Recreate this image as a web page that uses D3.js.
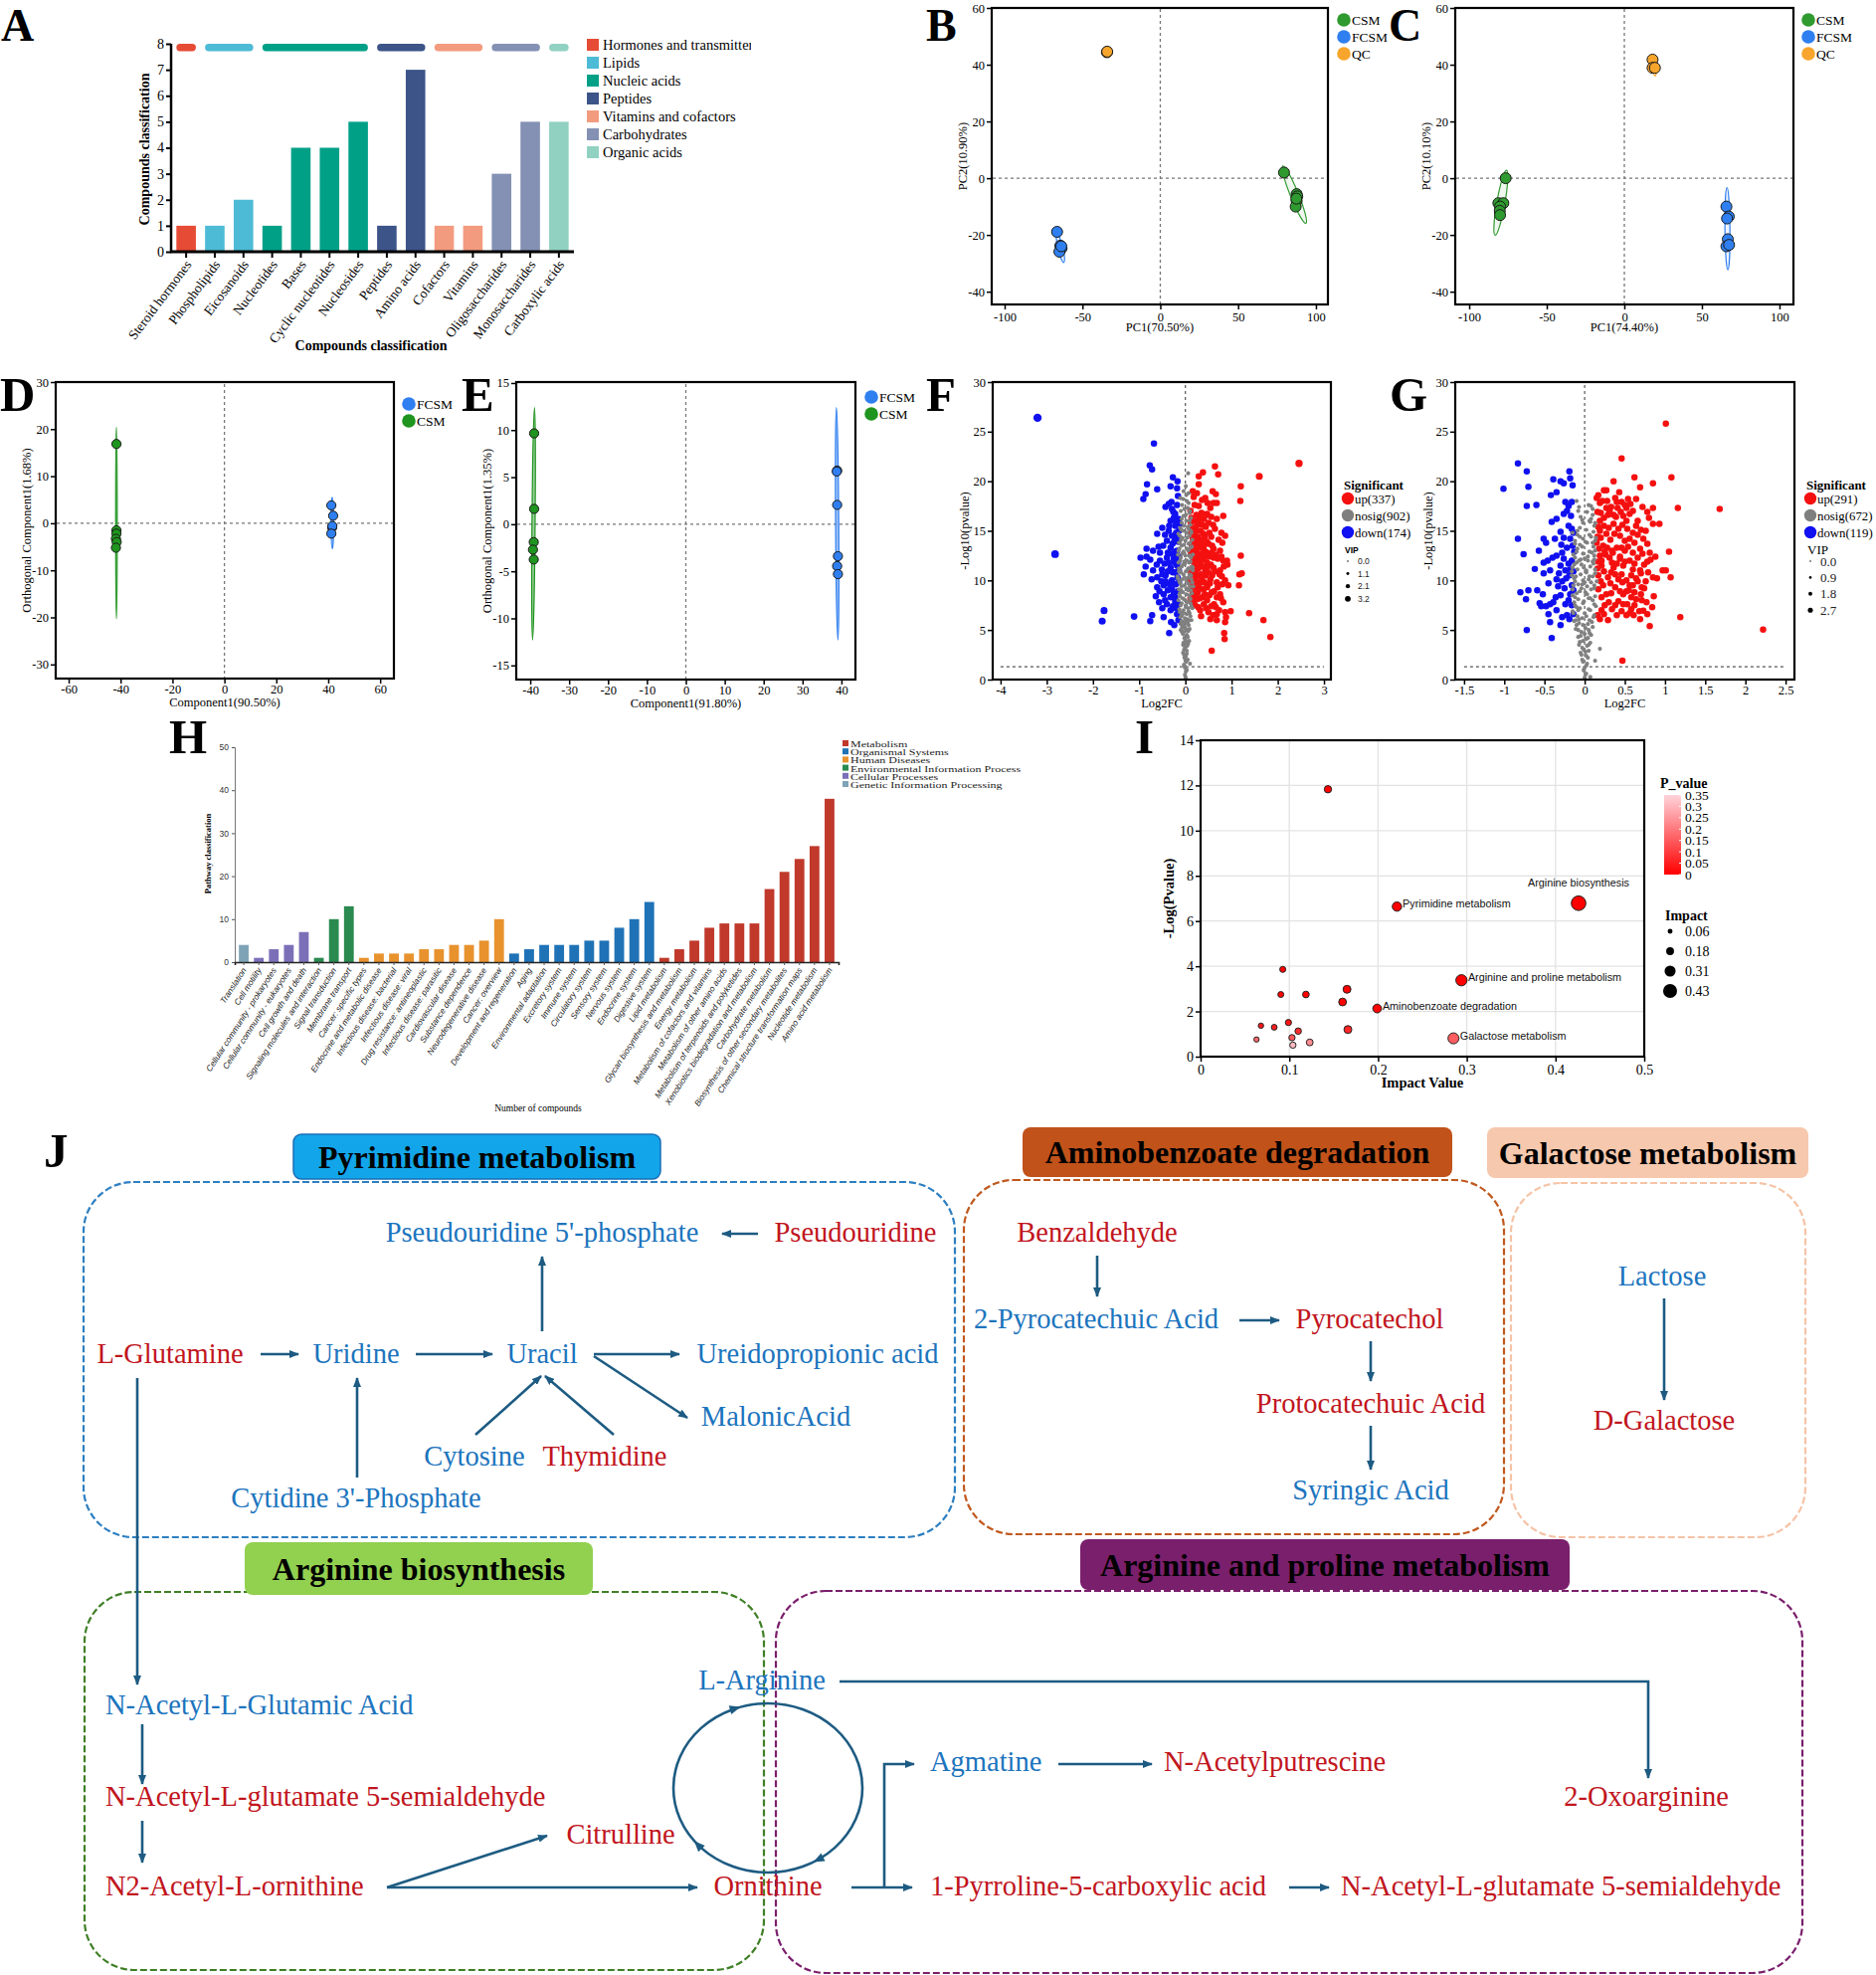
<!DOCTYPE html>
<html><head><meta charset="utf-8">
<script src="https://cdn.jsdelivr.net/npm/d3@7/dist/d3.min.js"></script>
<style>
html,body{margin:0;padding:0;background:#fff;}
svg{display:block;}
</style></head><body>
<svg id="fig" width="1886" height="1985" xmlns="http://www.w3.org/2000/svg"></svg>
<script>
// ======================= DATA =======================
// Panel A
const aCategories = ["Steroid hormones","Phospholipids","Eicosanoids","Nucleotides","Bases","Cyclic nucleotides","Nucleosides","Peptides","Amino acids","Cofactors","Vitamins","Oligosaccharides","Monosaccharides","Carboxylic acids"];
const aValues = [1,1,2,1,4,4,5,1,7,1,1,3,5,5];
const aClassOf = [0,1,1,2,2,2,2,3,3,4,4,5,5,6];
const aClasses = ["Hormones and transmitters","Lipids","Nucleic acids","Peptides","Vitamins and cofactors","Carbohydrates","Organic acids"];
const aColors = ["#e64b35","#4dbbd5","#00a087","#3c5488","#f39b7f","#8491b4","#91d1c2"];
const aYTicks = [0,1,2,3,4,5,6,7,8];

// Panels B, C (PCA)
const bCSM = [[79.5,2],[87.6,-5.6],[88,-6.4],[87.6,-8],[87,-10],[87.4,-7.2]];
const bFCSM = [[-66.3,-18.9],[-64.2,-23.8],[-63.4,-24.7],[-64.8,-25.9],[-63.6,-24]];
const bQC = [[-34.3,44.4],[-34.1,44.6]];
const bEllipses = [["CSM",[78.7,4.3],[93.6,-15.9],2.6],["FCSM",[-66.3,-19.7],[-62,-29.7],1.6]];
const cCSM = [[-76.5,0],[-81.2,-8.8],[-78,-8.8],[-80.1,-10],[-80.3,-11.5],[-80.1,-13]];
const cFCSM = [[65.8,-10],[67.3,-13.5],[66.2,-14.2],[66.7,-21.5],[65.8,-24],[67.5,-23.5]];
const cQC = [[18.2,41.8],[18.2,38.9],[19.7,38.9]];
const cEllipses = [["CSM",[-75.9,2.8],[-83.3,-20.1],2.6],["FCSM",[66.2,-3.3],[66.7,-32.3],1.6],["QC",[18.6,43],[19.9,36],1.2]];
const pcaXTicks = [-100,-50,0,50,100];
const pcaYTicks = [-40,-20,0,20,40,60];

// Panels D, E (OPLS-DA)
const dCSM = [[-41.6,16.85],[-41.6,-1.5],[-41.6,-2.2],[-41.8,-3.3],[-41.5,-4],[-41.8,-5.2]];
const dFCSM = [[41.2,3.8],[41.9,1.6],[41.5,-0.9],[41.6,-0.6],[41.2,-2.2]];
const dEllipses = [["CSM",[-41.6,20.4],[-41.6,-20.3],0.3],["FCSM",[41.5,5.5],[41.6,-5.4],0.5]];
const dXTicks = [-60,-40,-20,0,20,40,60];
const dYTicks = [-30,-20,-10,0,10,20,30];
const eCSM = [[-39,9.65],[-39,1.63],[-39.1,-1.9],[-39.3,-2.7],[-39.1,-3.75]];
const eFCSM = [[38.9,5.7],[38.8,5.6],[38.9,2.05],[39.1,-3.4],[38.9,-4.45],[39.1,-5.3]];
const eEllipses = [["CSM",[-38.9,12.4],[-39.4,-12.3],0.4],["FCSM",[38.7,12.4],[39.1,-12.3],0.4]];
const eXTicks = [-40,-30,-20,-10,0,10,20,30,40];
const eYTicks = [-15,-10,-5,0,5,10,15];

// Panel F (volcano) [log2FC, -log10 p, (VIP)]
const fDown = [[-3.20,26.4,4.2],[-2.82,12.65,3.8],[-1.76,6.96,3.4],[-1.80,5.89,3.4],[-1.11,6.36,3.2],[-0.68,23.8],[-0.77,21.6],[-0.72,21.2],[-0.83,19.7],[-0.86,18.7],[-0.91,18.2],[-0.61,19.2],[-0.27,20.4],[-0.32,19.5],[-0.17,20.0],[-0.18,19.3],[-0.36,17.7],[-0.29,17.2],[-0.22,16.7],[-0.32,16.0],[-0.22,15.5],[-0.61,14.7],[-0.36,15.0],[-0.29,14.5],[-0.40,14.0],[-0.22,14.1],[-0.84,13.2],[-0.70,13.0],[-0.55,12.8],[-0.32,13.3],[-0.18,13.0],[-0.84,12.4],[-0.76,12.1],[-0.55,12.0],[-0.40,12.3],[-0.25,12.2],[-0.86,11.4],[-0.70,11.0],[-0.51,11.1],[-0.32,11.3],[-0.18,11.5],[-0.73,10.1],[-0.61,10.3],[-0.43,10.5],[-0.29,10.0],[-0.17,10.3],[-0.61,9.3],[-0.47,9.5],[-0.29,9.1],[-0.64,8.4],[-0.47,8.6],[-0.32,8.3],[-0.57,7.8],[-0.40,7.6],[-0.22,7.9],[-0.47,6.3],[-0.32,7.0],[-0.18,6.6],[-0.72,6.5],[-0.76,5.9],[-0.31,5.8],[-0.35,4.7],[-0.43,17.4],[-0.11,15.7],[-0.97,12.3],[-0.90,10.6],[-0.25,16.3],[-0.35,15.5],[-0.20,14.8],[-0.28,13.7],[-0.38,12.8],[-0.20,12.6],[-0.45,11.7],[-0.27,10.8],[-0.52,9.9],[-0.38,9.0],[-0.25,8.7],[-0.56,8.9],
  [-0.15,16.2],[-0.20,15.9],[-0.14,15.0],[-0.17,14.5],[-0.24,13.9],[-0.15,13.9],[-0.14,12.4],[-0.22,12.9],[-0.30,12.7],[-0.16,11.9],[-0.23,11.8],[-0.36,11.8],[-0.14,11.0],[-0.22,10.8],[-0.38,10.9],[-0.14,9.8],[-0.21,9.6],[-0.34,9.6],[-0.43,9.9],[-0.16,8.9],[-0.22,8.3],[-0.44,8.0],[-0.15,7.6],[-0.27,7.4],[-0.50,7.2],[-0.20,7.2],[-0.26,16.9],[-0.18,17.6],[-0.30,17.9],[-0.16,18.5],[-0.48,13.5],[-0.50,10.6],[-0.62,11.6],[-0.58,13.4],[-0.44,14.6],[-0.50,15.3],[-0.15,6.0],[-0.24,5.5]];
const fUp = [[2.46,21.8,3.6],[1.60,20.5,3.4],[1.20,19.5],[1.19,18.0],[0.82,16.5],[0.64,21.5],[0.71,20.7],[0.38,20.9],[0.29,20.5],[0.16,19.0],[0.25,18.8],[0.59,19.0],[0.66,18.7],[0.61,17.8],[0.54,17.3],[0.47,16.7],[0.29,17.5],[0.32,16.5],[0.21,16.0],[0.50,15.8],[0.64,15.2],[0.78,14.8],[0.86,14.5],[0.25,15.0],[0.39,14.7],[0.16,14.2],[0.32,13.8],[0.50,13.7],[0.61,13.2],[0.75,13.0],[0.18,13.0],[0.36,12.7],[1.20,12.5],[0.90,12.0],[0.91,11.6],[0.18,12.0],[0.32,11.7],[0.47,11.8],[0.61,11.3],[0.75,11.0],[1.17,10.6],[1.22,10.7],[0.21,10.6],[0.36,10.3],[0.54,10.1],[0.68,9.8],[0.86,10.0],[1.16,9.5],[0.93,9.5],[0.19,9.3],[0.39,9.1],[0.57,8.8],[0.75,8.6],[0.82,7.8],[0.25,8.1],[0.47,8.0],[0.62,7.6],[0.21,7.5],[0.32,7.0],[0.50,6.8],[0.68,6.6],[0.86,6.8],[0.98,6.9],[1.38,6.7],[0.54,6.1],[0.68,6.0],[0.86,5.8],[0.88,6.3],[1.69,6.0],[1.84,4.3],[0.84,4.7],[0.85,4.1],[0.57,2.9],[0.29,19.7],[0.43,18.3],[0.68,17.8],[0.11,17.0],[0.21,15.3],[0.56,14.4],[0.14,11.2],[0.09,10.1],[0.14,9.0],[0.61,12.3],[0.43,11.0],[0.29,9.3],[0.68,8.3],[0.82,12.0],[0.79,10.4],[0.39,13.2],[0.32,15.7],[0.13,16.3],[0.24,14.0],[0.45,12.5],[0.12,12.8],[0.27,12.3],[0.55,11.6],[0.13,14.9],[0.36,9.8],[0.48,9.5],[0.22,11.4],
  [0.12,15.8],[0.15,15.2],[0.18,14.6],[0.20,13.6],[0.23,13.1],[0.15,12.4],[0.19,11.8],[0.22,11.0],[0.16,10.6],[0.20,10.0],[0.24,9.6],[0.17,8.6],[0.22,8.4],[0.27,8.8],[0.30,9.8],[0.33,10.6],[0.28,11.2],[0.31,12.0],[0.26,12.7],[0.30,13.3],[0.35,14.1],[0.27,14.4],[0.33,15.0],[0.37,15.6],[0.24,16.6],[0.35,16.8],[0.40,16.2],[0.44,15.4],[0.42,14.4],[0.46,13.9],[0.40,13.5],[0.44,12.9],[0.50,12.4],[0.40,12.1],[0.48,11.4],[0.38,11.4],[0.44,10.5],[0.50,10.8],[0.41,9.8],[0.47,9.3],[0.53,9.7],[0.42,8.6],[0.52,8.5],[0.37,8.3],[0.45,7.2],[0.56,7.4],[0.40,7.6],[0.28,7.3],[0.34,6.4],[0.62,8.9],[0.58,10.5],[0.64,10.9],[0.56,12.8],[0.66,12.6],[0.58,13.5],[0.52,14.8],[0.60,15.6],[0.56,16.4],[0.48,17.8],[0.36,18.1],[0.20,17.6],[0.18,18.4],[0.72,14.1],[0.70,12.2],[0.74,10.6],[0.70,9.3],[0.77,8.2],[0.66,7.3],[0.60,6.5],[0.73,7.0],[0.80,9.6],[0.83,11.4],[0.78,12.4],[0.80,13.8],[0.68,16.2],[0.26,15.6],[0.14,13.6],[0.12,10.8],[0.13,9.5],[0.16,7.9],[0.11,8.2],[0.25,10.4],[0.35,12.4],[0.31,8.2],[0.46,16.6],[0.29,16.2]];
const fNosig = [[0.06,20.8],[0.07,18.8],[-0.11,18.3],[-0.10,17.0],[-0.11,15.3],[0.10,1.6],[0.0,0.3],[0.01,0.8],[-0.01,1.2],[0.02,1.8],[-0.02,2.2],[0.03,2.6],[-0.03,3.0],[0.04,3.4],[-0.04,3.7],[0.0,4.0],[0.05,4.3],[-0.05,4.6],[0.02,5.0],[-0.07,5.3],[0.07,5.5],[-0.02,5.8],[0.04,6.1],[-0.08,6.4],[0.09,6.7],[-0.04,7.0],[0.06,7.2],[-0.10,7.5],[0.11,7.7],[0.0,8.0],[-0.06,8.2],[0.08,8.5],[-0.12,8.7],[0.12,9.0],[0.02,9.2],[-0.08,9.4],[0.06,9.7],[-0.13,9.9],[0.13,10.1],[-0.02,10.3],[0.09,10.6],[-0.10,10.8],[0.04,11.0],[-0.14,11.2],[0.14,11.4],[-0.05,11.6],[0.08,11.8],[-0.11,12.0],[0.12,12.3],[0.0,12.5],[-0.07,12.7],[0.06,13.0],[-0.13,13.2],[0.14,13.4],[-0.03,13.6],[0.10,13.8],[-0.09,14.1],[0.04,14.3],[-0.12,14.5],[0.13,14.8],[-0.05,15.0],[0.07,15.2],[0.11,15.6],[-0.08,15.8],[0.02,16.0],[0.12,16.3],[-0.04,16.5],[0.09,16.8],[0.05,17.3],[-0.07,17.6],[0.03,18.0],[-0.04,19.0],[0.01,19.5],[-0.16,12.6],[0.16,11.0],[-0.17,10.4],[0.17,9.4],[-0.15,8.0],[0.15,7.2],[-0.12,6.8],[0.13,6.0],[-0.10,5.6],[-0.06,4.9],[0.08,3.9],[-0.05,2.7],[0.05,2.0],[-0.03,1.5],[0.03,1.0],[-0.09,9.0],[0.10,11.2],[-0.12,13.8],[0.03,14.8],[-0.02,11.9],[0.07,9.1],[-0.06,6.8],[0.05,5.8],[-0.01,3.3],[0.11,8.1],[-0.14,10.9],[0.01,7.5],
  [0.01,0.1],[-0.01,0.5],[0.02,0.9],[-0.02,1.4],[0.0,1.9],[0.01,2.3],[-0.03,2.5],[0.03,2.9],[0.0,3.2],[-0.05,3.5],[0.06,3.6],[0.01,3.8],[-0.02,4.2],[0.03,4.5],[-0.07,4.8],[0.06,4.9],[-0.10,5.0],[0.0,5.2],[0.09,5.1],[-0.04,5.5],[0.03,5.7],[-0.08,5.9],[0.08,6.0],[-0.01,6.2],[-0.11,6.3],[0.11,6.4],[0.03,6.6],[-0.06,6.6],[0.07,6.9],[-0.13,7.1],[0.01,7.3],[0.13,7.4],[-0.08,7.7],[0.05,7.8],[-0.03,8.1],[0.10,8.2],[-0.12,8.4],[0.02,8.6],[0.14,8.7],[-0.05,8.8],[0.06,9.0],[-0.14,9.1],[-0.02,9.5],[0.10,9.4],[-0.11,9.7],[0.15,9.8],[0.02,10.0],[-0.07,10.1],[0.07,10.3],[-0.16,10.2],[0.12,10.5],[-0.04,10.6],[0.01,10.9],[-0.12,11.0],[0.16,11.3],[0.06,11.2],[-0.08,11.4],[-0.01,11.7],[0.11,11.9],[-0.15,11.8],[0.03,12.0],[-0.10,12.3],[0.08,12.5],[0.16,12.6],[-0.04,12.9],[-0.15,13.0],[0.03,13.2],[0.11,13.3],[-0.08,13.5],[0.07,13.7],[-0.14,13.8],[0.0,14.0],[0.15,14.1],[-0.06,14.3],[0.09,14.5],[-0.15,14.7],[0.02,14.8],[0.12,15.0],[-0.09,15.1],[0.05,15.4],[-0.03,15.5],[0.09,16.0],[-0.08,16.2],[0.01,16.6],[0.10,17.0],[-0.02,17.2],[0.07,17.8],[-0.05,18.2],[0.02,18.6]];

// Panel G (volcano)
const gDown = [[-1.01,19.25],[-0.83,21.8],[-0.72,21.0],[-0.70,19.45],[-0.72,17.5],[-0.60,17.6],[-0.83,14.2],[-0.76,12.65],[-0.57,13.0],[-0.62,11.15],[-0.51,14.2],[-0.48,13.8],[-0.51,11.8],[-0.51,10.7],[-0.43,11.0],[-0.80,8.8],[-0.70,9.0],[-0.73,8.1],[-0.59,9.0],[-0.56,7.7],[-0.54,7.4],[-0.48,7.4],[-0.43,7.6],[-0.45,6.6],[-0.39,7.8],[-0.35,7.0],[-0.43,5.8],[-0.72,5.0],[-0.41,4.2],[-0.39,20.2],[-0.30,20.0],[-0.26,19.8],[-0.19,21.0],[-0.18,20.3],[-0.15,19.6],[-0.35,18.9],[-0.42,18.6],[-0.24,17.9],[-0.20,17.5],[-0.16,17.9],[-0.22,17.0],[-0.26,16.7],[-0.41,15.9],[-0.35,16.2],[-0.20,15.5],[-0.16,15.2],[-0.30,14.9],[-0.37,14.2],[-0.26,14.3],[-0.18,14.2],[-0.15,13.5],[-0.35,12.5],[-0.26,12.2],[-0.20,11.7],[-0.16,12.0],[-0.30,11.5],[-0.24,11.0],[-0.18,11.1],[-0.35,10.1],[-0.28,9.9],[-0.19,10.5],[-0.16,9.5],[-0.30,8.5],[-0.18,8.6],[-0.20,8.0],[-0.28,6.3],[-0.22,6.5],[-0.19,6.1],[-0.30,5.5],
  [-0.17,16.5],[-0.14,14.8],[-0.22,13.3],[-0.13,12.9],[-0.28,12.8],[-0.14,10.9],[-0.23,10.2],[-0.32,10.7],[-0.14,9.0],[-0.25,9.2],[-0.33,9.4],[-0.16,7.5],[-0.24,7.6],[-0.14,6.6],[-0.36,8.3],[-0.29,13.6],[-0.45,9.7],[-0.52,8.6],[-0.40,12.3],[-0.46,12.0]];
const gUp = [[1.01,25.8],[0.46,22.3],[0.36,20.0],[0.62,20.4],[1.08,20.4],[0.85,19.8],[0.69,19.4],[0.24,19.1],[0.27,19.1],[0.43,18.9],[0.15,18.3],[0.19,17.8],[0.40,17.9],[0.46,17.9],[0.57,17.7],[1.16,17.3],[0.85,17.3],[1.68,17.2],[0.27,17.3],[0.31,17.0],[0.45,16.9],[0.48,16.5],[0.52,16.0],[0.80,16.3],[0.85,15.7],[0.93,15.7],[0.19,16.0],[0.36,15.7],[0.64,15.5],[0.76,15.0],[0.19,15.0],[0.27,14.7],[0.44,14.5],[0.56,14.2],[0.73,14.2],[0.62,13.8],[0.15,13.8],[0.23,13.5],[0.40,13.3],[0.50,13.0],[0.69,13.2],[0.81,12.8],[1.05,12.9],[0.19,12.5],[0.31,12.3],[0.44,12.2],[0.56,12.0],[0.66,12.3],[0.78,11.9],[0.21,11.5],[0.36,11.3],[0.48,11.5],[0.60,11.1],[0.97,11.0],[1.01,11.0],[0.17,10.5],[0.29,10.3],[0.42,10.1],[0.52,10.0],[0.85,10.3],[1.07,10.3],[0.23,9.5],[0.38,9.3],[0.60,9.5],[0.71,9.3],[0.27,8.6],[0.48,8.6],[0.62,8.8],[0.64,8.1],[0.71,8.0],[0.25,7.5],[0.38,7.5],[0.48,7.6],[0.58,7.1],[0.84,7.3],[0.21,7.0],[0.40,6.5],[0.52,6.5],[0.61,6.5],[0.19,6.1],[0.29,6.0],[0.69,6.1],[0.73,6.96],[1.19,6.3],[0.81,5.4],[2.22,5.05],[0.47,1.9],[0.52,17.3],[0.34,13.0],[0.69,11.0],[0.16,14.4],[0.17,11.9],[0.33,10.8],[0.55,9.0],[0.25,12.9],[0.39,16.4],[0.16,16.9],
  [0.17,18.6],[0.22,18.0],[0.20,16.8],[0.24,16.3],[0.29,16.6],[0.33,17.4],[0.36,16.6],[0.41,17.3],[0.50,17.6],[0.56,16.7],[0.60,17.0],[0.66,16.0],[0.70,15.1],[0.60,14.8],[0.53,15.2],[0.47,15.6],[0.42,15.2],[0.30,15.3],[0.24,15.5],[0.17,15.4],[0.20,14.3],[0.32,14.1],[0.37,14.7],[0.50,14.0],[0.66,14.6],[0.78,13.7],[0.72,12.7],[0.60,12.8],[0.54,13.4],[0.46,13.3],[0.35,12.8],[0.28,13.3],[0.18,13.2],[0.21,12.0],[0.34,11.8],[0.40,11.7],[0.50,11.9],[0.62,11.7],[0.74,11.6],[0.82,12.1],[0.70,10.7],[0.58,10.5],[0.46,10.6],[0.38,10.6],[0.24,10.9],[0.16,11.2],[0.20,9.9],[0.32,9.7],[0.47,9.8],[0.56,9.5],[0.66,9.9],[0.76,9.9],[0.70,8.6],[0.58,8.3],[0.44,8.9],[0.33,8.7],[0.21,8.3],[0.17,9.1],[0.30,7.8],[0.42,7.9],[0.53,7.6],[0.62,7.5],[0.68,6.9],[0.56,6.7],[0.46,6.9],[0.34,7.1],[0.24,6.6],[0.16,6.5],[0.77,7.8],[0.74,9.2],[0.79,10.8],[0.88,12.4],[0.90,10.2],[0.86,8.4],[0.78,6.6],[0.54,18.2],[0.64,18.2],[0.72,17.4],[0.78,16.9],[0.38,18.3],[0.28,18.0],[0.26,12.6],[0.44,12.4],[0.52,8.9],[0.64,10.2]];
const gNosig = [[-0.10,18.0],[-0.08,17.0],[0.10,17.2],[0.08,16.2],[-0.02,15.8],[0.12,15.5],[-0.09,15.0],[0.06,14.6],[-0.12,14.0],[0.10,13.8],[-0.03,13.4],[0.13,13.0],[-0.14,12.6],[0.04,12.4],[-0.07,12.0],[0.11,11.7],[-0.15,11.3],[0.02,11.0],[0.13,10.7],[-0.11,10.4],[-0.02,10.0],[0.08,9.8],[-0.14,9.5],[0.12,9.2],[-0.06,8.9],[0.03,8.6],[-0.12,8.3],[0.10,8.0],[-0.02,7.7],[-0.10,7.3],[0.07,7.0],[-0.14,6.7],[0.02,6.4],[-0.07,6.1],[0.09,5.8],[-0.10,5.5],[0.01,5.2],[-0.08,5.0],[0.06,4.7],[-0.05,4.4],[0.02,4.1],[-0.06,3.8],[0.05,3.5],[-0.03,3.2],[0.19,3.1],[0.01,2.8],[-0.04,2.5],[0.04,2.2],[0.13,1.9],[-0.02,1.8],[0.02,1.4],[-0.01,1.0],[0.02,0.6],[0.07,0.27],[0.0,0.2],[-0.16,10.9],[0.15,9.9],[-0.13,7.8],[0.14,7.4],[-0.05,16.4],[0.05,17.6],[0.0,12.2],[-0.09,13.2],[0.09,12.8],[0.14,14.3],[-0.15,14.8],[0.11,6.3],[-0.11,6.0],[0.03,9.4],[-0.04,11.6],[0.06,10.4],[-0.12,9.9],[0.12,12.1],[-0.06,14.4],[0.07,15.9],[-0.1,11.8],[0.01,13.9],[-0.03,9.6],[0.05,8.2],[-0.08,7.0],
  [0.01,0.5],[-0.01,0.9],[0.0,1.2],[0.03,1.6],[-0.03,2.0],[0.02,2.4],[-0.05,2.7],[0.05,2.9],[-0.01,3.0],[0.03,3.4],[-0.07,3.5],[0.07,3.7],[-0.02,3.9],[0.04,4.2],[-0.08,4.3],[0.08,4.5],[0.0,4.6],[-0.04,4.8],[0.05,5.0],[-0.11,5.1],[0.10,5.3],[-0.02,5.5],[0.04,5.6],[-0.07,5.7],[-0.13,5.9],[0.06,6.0],[-0.03,6.2],[0.12,6.5],[-0.09,6.4],[0.0,6.7],[-0.15,6.9],[0.05,7.1],[-0.06,7.2],[0.12,7.6],[-0.12,7.5],[-0.01,7.9],[0.07,8.2],[-0.08,8.1],[-0.15,8.5],[0.13,8.4],[0.01,8.8],[-0.10,8.7],[0.08,9.1],[-0.04,9.2],[-0.15,9.1],[0.12,9.5],[0.0,9.8],[-0.08,9.6],[0.05,10.1],[-0.13,10.2],[0.10,10.4],[-0.05,10.6],[0.02,10.8],[-0.16,10.5],[0.13,11.1],[-0.09,11.1],[0.07,11.4],[-0.01,11.3],[-0.13,11.6],[0.10,11.9],[0.04,12.0],[-0.05,12.1],[-0.12,12.3],[0.12,12.5],[-0.02,12.7],[0.06,12.9],[-0.10,12.9],[0.11,13.4],[-0.06,13.6],[0.03,13.8],[-0.12,13.7],[0.13,14.0],[-0.02,14.2],[0.08,14.4],[-0.09,14.6],[0.11,14.9],[0.02,15.1],[-0.06,15.3],[0.13,15.8],[0.06,16.0],[-0.03,16.1],[0.10,16.6],[0.03,16.9],[0.08,17.5],[-0.07,17.4]];
const fXTicks = [-4,-3,-2,-1,0,1,2,3];
const gXTicks = [-1.5,-1,-0.5,0,0.5,1,1.5,2,2.5];
const volYTicks = [0,5,10,15,20,25,30];
const fVipTicks = [0.0,1.1,2.1,3.2];
const gVipTicks = [0.0,0.9,1.8,2.7];

// Panel H (KEGG classification)
const hCategories = ["Translation","Cell motility","Cellular community - prokaryotes","Cellular community - eukaryotes","Cell growth and death","Signaling molecules and interaction","Signal transduction","Membrane transport","Cancer: specific types","Endocrine and metabolic disease","Infectious disease: bacterial","Infectious disease: viral","Drug resistance: antineoplastic","Infectious disease: parasitic","Cardiovascular disease","Substance dependence","Neurodegenerative disease","Cancer: overview","Development and regeneration","Aging","Environmental adaptation","Excretory system","Immune system","Circulatory system","Sensory system","Nervous system","Endocrine system","Digestive system","Lipid metabolism","Glycan biosynthesis and metabolism","Energy metabolism","Metabolism of cofactors and vitamins","Metabolism of other amino acids","Metabolism of terpenoids and polyketides","Xenobiotics biodegradation and metabolism","Carbohydrate metabolism","Biosynthesis of other secondary metabolites","Chemical structure transformation maps","Nucleotide metabolism","Amino acid metabolism"];
const hValues = [4,1,3,4,7,1,10,13,1,2,2,2,3,3,4,4,5,10,2,3,4,4,4,5,5,8,10,14,1,3,5,8,9,9,9,17,21,24,27,38];
const hGroupOf = [5,4,4,4,4,3,3,3,2,2,2,2,2,2,2,2,2,2,1,1,1,1,1,1,1,1,1,1,0,0,0,0,0,0,0,0,0,0,0,0];
const hGroups = ["Metabolism","Organismal Systems","Human Diseases","Environmental Information Processing","Cellular Processes","Genetic Information Processing"];
const hColors = ["#c0392b","#1f72b6","#e8922e","#2a8a50","#7b70b8","#7fa3b6"];
const hYTicks = [0,10,20,30,40,50];

// Panel I (pathway impact) [impact, -log(p)]
const iPoints = [[0.1435,11.83],[0.2213,6.64],[0.426,6.79],[0.0926,3.86],[0.294,3.38],[0.0904,2.75],[0.1187,2.75],[0.165,2.98],[0.160,2.42],[0.199,2.13],[0.068,1.37],[0.083,1.30],[0.099,1.51],[0.110,1.13],[0.166,1.20],[0.285,0.81],[0.063,0.76],[0.103,0.84],[0.104,0.51],[0.123,0.63]];
const iNames = ["","Pyrimidine metabolism","Arginine biosynthesis","","Arginine and proline metabolism","","","","","Aminobenzoate degradation","","","","","","Galactose metabolism","","","",""];
const iXTicks = [0,0.1,0.2,0.3,0.4,0.5];
const iYTicks = [0,2,4,6,8,10,12,14];
const iPTicks = [0,0.05,0.1,0.15,0.2,0.25,0.3,0.35];
const iImpactTicks = [0.06,0.18,0.31,0.43];

// Panel J (pathway map)
const jPathways = ["Pyrimidine metabolism","Aminobenzoate degradation","Galactose metabolism","Arginine biosynthesis","Arginine and proline metabolism"];
const jNodeNames = ["Pseudouridine 5'-phosphate","Pseudouridine","L-Glutamine","Uridine","Uracil","Ureidopropionic acid","MalonicAcid","Cytosine","Thymidine","Cytidine 3'-Phosphate","Benzaldehyde","2-Pyrocatechuic Acid","Pyrocatechol","Protocatechuic Acid","Syringic Acid","Lactose","D-Galactose","N-Acetyl-L-Glutamic Acid","N-Acetyl-L-glutamate 5-semialdehyde","N2-Acetyl-L-ornithine","Citrulline","Ornithine","L-Arginine","Agmatine","N-Acetylputrescine","2-Oxoarginine","1-Pyrroline-5-carboxylic acid","N-Acetyl-L-glutamate 5-semialdehyde"];
const jNodeReg = ["down","up","up","down","down","down","down","down","up","down","up","down","up","up","down","down","up","down","up","up","up","up","down","down","up","up","up","up"];

// ======================= LAYOUT / STYLE =======================
const SERIF = "'Liberation Serif','Times New Roman',serif";
const SANS = "'Liberation Sans',Arial,sans-serif";
const svg = d3.select("#fig");
svg.append("rect").attr("width",1886).attr("height",1985).attr("fill","#fff");
const defs = svg.append("defs");

function letter(t,x,y,fs){ svg.append("text").attr("x",x).attr("y",y).attr("font-family",SERIF).attr("font-size",fs||49).attr("font-weight","bold").text(t); }
function styleAxis(sel, fs, fam){
  sel.select(".domain").remove();
  sel.selectAll(".tick line").attr("stroke","#000").attr("stroke-width",1.5);
  sel.selectAll(".tick text").attr("font-family",fam||SERIF).attr("font-size",fs).attr("fill","#000");
}
const fmt = d=>String(d);

function frame(o){
  const x = d3.scaleLinear().domain(o.xd).range([o.l,o.r]);
  const y = d3.scaleLinear().domain(o.yd).range([o.b,o.t]);
  const g = svg.append("g");
  const back = g.append("g"), mid = g.append("g"), front = g.append("g");
  const ax = front.append("g").attr("transform",`translate(0,${o.b})`).call(d3.axisBottom(x).tickValues(o.xt).tickSize(5).tickPadding(o.xpad!==undefined?o.xpad:3).tickFormat(fmt));
  const ay = front.append("g").attr("transform",`translate(${o.l},0)`).call(d3.axisLeft(y).tickValues(o.yt).tickSize(5).tickPadding(2).tickFormat(fmt));
  styleAxis(ax,o.fs||12.5); styleAxis(ay,o.fs||12.5);
  front.append("rect").attr("x",o.l).attr("y",o.t).attr("width",o.r-o.l).attr("height",o.b-o.t).attr("fill","none").attr("stroke","#000").attr("stroke-width",2.2);
  front.append("text").attr("x",o.xtX||(o.l+o.r)/2).attr("y",o.xtY).attr("text-anchor","middle").attr("font-family",SERIF).attr("font-size",o.tfs||12.5).attr("font-weight",o.tfw||"normal").text(o.xtitle);
  front.append("text").attr("transform",`translate(${o.ytX},${o.ytY||(o.t+o.b)/2}) rotate(-90)`).attr("text-anchor","middle").attr("font-family",SERIF).attr("font-size",o.tfs||12.5).attr("font-weight",o.tfw||"normal").text(o.ytitle);
  return {x,y,back,mid,front};
}
function zeroLines(P, xr, yr){
  P.back.append("line").attr("x1",P.x(0)).attr("x2",P.x(0)).attr("y1",yr[0]).attr("y2",yr[1]).attr("stroke","#777").attr("stroke-width",1.3).attr("stroke-dasharray","3,3");
  P.back.append("line").attr("y1",P.y(0)).attr("y2",P.y(0)).attr("x1",xr[0]).attr("x2",xr[1]).attr("stroke","#777").attr("stroke-width",1.3).attr("stroke-dasharray","3,3");
}
function ellipse(P, e, color, op){
  const ax = P.x(e[1][0]), ay = P.y(e[1][1]), bx = P.x(e[2][0]), by = P.y(e[2][1]);
  const cx=(ax+bx)/2, cy=(ay+by)/2, rx=Math.hypot(bx-ax,by-ay)/2;
  const ry = Math.abs(P.x(e[3])-P.x(0));
  const ang = Math.atan2(by-ay,bx-ax)*180/Math.PI;
  P.mid.append("ellipse").attr("cx",0).attr("cy",0).attr("rx",rx).attr("ry",ry)
   .attr("transform",`translate(${cx},${cy}) rotate(${ang})`)
   .attr("fill",color).attr("fill-opacity",op).attr("stroke",color).attr("stroke-width",1.2);
}
function dots(P, pts, color, r){
  P.mid.selectAll(null).data(pts).join("circle").attr("cx",d=>P.x(d[0])).attr("cy",d=>P.y(d[1])).attr("r",r)
   .attr("fill",color).attr("stroke","#1a1a1a").attr("stroke-width",1);
}
function legend(items, x, y0, step, fs){
  items.forEach((it,i)=>{
    svg.append("circle").attr("cx",x).attr("cy",y0+i*step).attr("r",6.8).attr("fill",it[1]);
    svg.append("text").attr("x",x+8).attr("y",y0+i*step+4.5).attr("font-family",SERIF).attr("font-size",fs||13.5).text(it[0]);
  });
}
const GREEN="#2f9a2f", BLUE="#2f7ff0", ORANGE="#f7a52c", DGREEN="#1f941f";

// ---------------- Panel A ----------------
letter("A",1,41,46);
{
  const x = d3.scaleBand().domain(aCategories).range([173,576]).paddingInner(0.32).paddingOuter(0.15);
  const y = d3.scaleLinear().domain([0,8]).range([253,44]);
  const g = svg.append("g");
  g.selectAll("rect.bar").data(aCategories).join("rect")
    .attr("x",d=>x(d)).attr("width",x.bandwidth())
    .attr("y",(d,i)=>y(aValues[i])).attr("height",(d,i)=>y(0)-y(aValues[i]))
    .attr("fill",(d,i)=>aColors[aClassOf[i]]);
  aClasses.forEach((c,k)=>{
    const idx = aClassOf.map((v,i)=>v===k?i:-1).filter(i=>i>=0);
    const x0 = x(aCategories[idx[0]]), x1 = x(aCategories[idx[idx.length-1]])+x.bandwidth();
    g.append("rect").attr("x",x0).attr("y",y(8)).attr("width",x1-x0).attr("height",7.5).attr("rx",3.7).attr("fill",aColors[k]);
  });
  const ay = g.append("g").attr("transform","translate(172,0)").call(d3.axisLeft(y).tickValues(aYTicks).tickSize(5).tickPadding(2).tickFormat(fmt));
  styleAxis(ay,14); ay.selectAll(".tick line").attr("stroke-width",2);
  g.append("line").attr("x1",172).attr("x2",172).attr("y1",y(8)).attr("y2",254).attr("stroke","#000").attr("stroke-width",2.5);
  const ax = g.append("g").attr("transform","translate(0,253)").call(d3.axisBottom(x).tickSize(6).tickFormat(fmt));
  styleAxis(ax,13.5); ax.selectAll(".tick line").attr("stroke-width",2);
  ax.selectAll(".tick text").attr("text-anchor","end").attr("y",0).attr("dy",0).attr("transform","translate(6,13) rotate(-53)");
  g.append("line").attr("x1",171).attr("x2",577).attr("y1",253).attr("y2",253).attr("stroke","#000").attr("stroke-width",3);
  g.append("text").attr("x",373).attr("y",352).attr("text-anchor","middle").attr("font-family",SERIF).attr("font-size",14).attr("font-weight","bold").text("Compounds classification");
  g.append("text").attr("transform","translate(150,150) rotate(-90)").attr("text-anchor","middle").attr("font-family",SERIF).attr("font-size",14).attr("font-weight","bold").text("Compounds classification");
  defs.append("clipPath").attr("id","clipA").append("rect").attr("x",580).attr("y",30).attr("width",175).attr("height",140);
  const lg = svg.append("g").attr("clip-path","url(#clipA)");
  aClasses.forEach((c,i)=>{
    lg.append("rect").attr("x",590).attr("y",39+i*18).attr("width",12).attr("height",12).attr("fill",aColors[i]);
    lg.append("text").attr("x",606).attr("y",49.5+i*18).attr("font-family",SERIF).attr("font-size",14.5).text(c);
  });
}

// ---------------- Panel B ----------------
letter("B",931,41,46);
{
  const P = frame({l:997,r:1335,t:8,b:306,xd:[-108.3,107.7],yd:[-44.5,60],xt:pcaXTicks,yt:pcaYTicks,xtY:333,xtitle:"PC1(70.50%)",ytX:972,ytitle:"PC2(10.90%)"});
  zeroLines(P,[998,1334],[9,305]);
  bEllipses.forEach(e=>ellipse(P,e,e[0]==="CSM"?GREEN:BLUE,0.08));
  dots(P,bFCSM,BLUE,5.5); dots(P,bCSM,GREEN,5.5); dots(P,bQC,ORANGE,5.5);
  legend([["CSM",GREEN],["FCSM",BLUE],["QC",ORANGE]],1351,20,17);
}
// ---------------- Panel C ----------------
letter("C",1396,41,46);
{
  const P = frame({l:1463,r:1803,t:8,b:306,xd:[-109,109],yd:[-44.5,60],xt:pcaXTicks,yt:pcaYTicks,xtY:333,xtitle:"PC1(74.40%)",ytX:1438,ytitle:"PC2(10.10%)"});
  zeroLines(P,[1464,1802],[9,305]);
  cEllipses.forEach(e=>ellipse(P,e,e[0]==="CSM"?GREEN:(e[0]==="FCSM"?BLUE:ORANGE),0.08));
  dots(P,cCSM,GREEN,5.5); dots(P,cFCSM,BLUE,5.5); dots(P,cQC,ORANGE,5.5);
  legend([["CSM",GREEN],["FCSM",BLUE],["QC",ORANGE]],1818,20,17);
}
// ---------------- Panel D ----------------
letter("D",0,413);
{
  const P = frame({l:56,r:396,t:384,b:682,xd:[-65,65.3],yd:[-33,30],xt:dXTicks,yt:dYTicks,xpad:1,xtY:710,xtitle:"Component1(90.50%)",ytX:31,ytitle:"Orthogonal Component1(1.68%)"});
  zeroLines(P,[57,395],[386,681]);
  dEllipses.forEach(e=>ellipse(P,e,e[0]==="CSM"?DGREEN:BLUE,0.45));
  dots(P,dCSM,DGREEN,4.6); dots(P,dFCSM,BLUE,4.6);
  legend([["FCSM",BLUE],["CSM",DGREEN]],411,406,17);
}
// ---------------- Panel E ----------------
letter("E",464,413);
{
  const P = frame({l:519,r:860,t:384,b:683,xd:[-43.6,43.6],yd:[-16.5,15.1],xt:eXTicks,yt:eYTicks,xpad:1,xtY:711,xtitle:"Component1(91.80%)",ytX:494,ytitle:"Orthogonal Component1(1.35%)"});
  zeroLines(P,[520,859],[386,682]);
  eEllipses.forEach(e=>ellipse(P,e,e[0]==="CSM"?DGREEN:BLUE,0.45));
  dots(P,eCSM,DGREEN,4.6); dots(P,eFCSM,BLUE,4.6);
  legend([["FCSM",BLUE],["CSM",DGREEN]],876,399,17);
}
// ---------------- Volcano F, G ----------------
function volcano(o){
  const P = frame({l:o.l,r:o.r,t:384,b:683,xd:o.xd,yd:[0,30],xt:o.xt,yt:volYTicks,xpad:1,xtY:711,xtitle:"Log2FC",ytX:o.ytX,ytitle:"-Log10(pvalue)"});
  const rS = d3.scaleLinear().domain([0,3.2]).range([0.9,3.4]);
  P.back.append("line").attr("x1",P.x(0)).attr("x2",P.x(0)).attr("y1",P.y(29.7)).attr("y2",P.y(0)).attr("stroke","#555").attr("stroke-width",1.2).attr("stroke-dasharray","3,3");
  P.back.append("line").attr("x1",P.x(o.xt[0])).attr("x2",P.x(o.xt[o.xt.length-1])).attr("y1",P.y(1.3)).attr("y2",P.y(1.3)).attr("stroke","#555").attr("stroke-width",1.2).attr("stroke-dasharray","3,3");
  const draw=(pts,col,vip)=>P.mid.selectAll(null).data(pts).join("circle").attr("cx",d=>P.x(d[0])).attr("cy",d=>P.y(d[1])).attr("r",d=>rS(d[2]!==undefined?d[2]:vip)).attr("fill",col);
  draw(o.up,"#f51010",3.0); draw(o.down,"#1010f0",3.0); draw(o.nosig,"#808080",1.5);
  const lx=o.lx;
  svg.append("text").attr("x",lx-4).attr("y",492).attr("font-family",SERIF).attr("font-size",13).attr("font-weight","bold").text("Significant");
  [["up("+o.counts[0]+")","#f51010"],["nosig("+o.counts[1]+")","#7f7f7f"],["down("+o.counts[2]+")","#1010f0"]].forEach((it,i)=>{
    svg.append("circle").attr("cx",lx).attr("cy",501+i*17).attr("r",6.2).attr("fill",it[1]);
    svg.append("text").attr("x",lx+7).attr("y",506+i*17).attr("font-family",SERIF).attr("font-size",12.8).text(it[0]);
  });
  svg.append("text").attr("x",lx-3).attr("y",o.vipY).attr("font-family",o.vipFam).attr("font-size",o.vipFs).attr("font-weight",o.vipFam===SANS?"bold":"normal").text("VIP");
  o.vipTicks.forEach((v,i)=>{
    const yy=o.vipRows[0]+i*o.vipRows[1];
    svg.append("circle").attr("cx",lx).attr("cy",yy).attr("r",rS(v)*0.85).attr("fill","#000");
    svg.append("text").attr("x",lx+10).attr("y",yy+o.vipFs*0.35).attr("font-family",o.vipFam).attr("font-size",o.vipFs).attr("fill","#222").text(v.toFixed(1));
  });
}
letter("F",931,413);
volcano({l:998,r:1338,xd:[-4.17,3.15],xt:fXTicks,ytX:974,up:fUp,down:fDown,nosig:fNosig,counts:[337,902,174],lx:1355,vipY:556,vipFam:SANS,vipFs:8.5,vipTicks:fVipTicks,vipRows:[564,12.6]});
letter("G",1397,413);
volcano({l:1463,r:1804,xd:[-1.61,2.61],xt:gXTicks,ytX:1440,up:gUp,down:gDown,nosig:gNosig,counts:[291,672,119],lx:1820,vipY:557,vipFam:SERIF,vipFs:13,vipTicks:gVipTicks,vipRows:[564,16.4]});

// ---------------- Panel H ----------------
letter("H",170,757);
{
  const x = d3.scaleBand().domain(hCategories).range([236,843]).paddingInner(0.35).paddingOuter(0.275);
  const y = d3.scaleLinear().domain([0,50]).range([967,751]);
  const g = svg.append("g");
  g.selectAll("rect").data(hCategories).join("rect").attr("x",d=>x(d)).attr("width",x.bandwidth())
    .attr("y",(d,i)=>y(hValues[i])).attr("height",(d,i)=>y(0)-y(hValues[i])).attr("fill",(d,i)=>hColors[hGroupOf[i]]);
  const ay = g.append("g").attr("transform","translate(236,0)").call(d3.axisLeft(y).tickValues(hYTicks).tickSize(3).tickPadding(3).tickFormat(fmt));
  ay.select(".domain").attr("stroke","#777").attr("stroke-width",1);
  ay.selectAll(".tick line").attr("stroke","#555");
  ay.selectAll(".tick text").attr("font-family",SANS).attr("font-size",8.5).attr("fill","#333");
  const ax = g.append("g").attr("transform","translate(0,967)").call(d3.axisBottom(x).tickSize(3).tickFormat(fmt));
  ax.select(".domain").attr("stroke","#222").attr("stroke-width",1.6);
  ax.selectAll(".tick line").attr("stroke","#555");
  ax.selectAll(".tick text").attr("font-family",SANS).attr("font-size",8.4).attr("font-style","italic").attr("fill","#222")
    .attr("text-anchor","end").attr("y",0).attr("dy",0).attr("transform","translate(3,8) rotate(-57)");
  g.append("text").attr("x",541).attr("y",1117).attr("text-anchor","middle").attr("font-family",SERIF).attr("font-size",9.5).text("Number of compounds");
  g.append("text").attr("transform","translate(212,858) rotate(-90)").attr("text-anchor","middle").attr("font-family",SERIF).attr("font-size",8.5).attr("font-weight","bold").text("Pathway classification");
  defs.append("clipPath").attr("id","clipH").append("rect").attr("x",840).attr("y",735).attr("width",186).attr("height",70);
  const lg = svg.append("g").attr("clip-path","url(#clipH)");
  hGroups.forEach((c,i)=>{
    lg.append("rect").attr("x",847).attr("y",744+i*8.2).attr("width",6).attr("height",6).attr("fill",hColors[i]);
    lg.append("text").attr("transform",`translate(855,${751+i*8.2}) scale(1,0.74)`).attr("font-family",SERIF).attr("font-size",12).attr("fill","#222").text(c);
  });
}

// ---------------- Panel I ----------------
letter("I",1141,757);
{
  const P = frame({l:1207,r:1653,t:744,b:1062,xd:[0,0.5],yd:[0,14],xt:iXTicks,yt:iYTicks,fs:14,tfs:14.5,tfw:"bold",xtY:1093,xtitle:"Impact Value",ytX:1180,ytitle:"-Log(Pvalue)"});
  iXTicks.slice(1,-1).forEach(t=>P.back.append("line").attr("x1",P.x(t)).attr("x2",P.x(t)).attr("y1",745).attr("y2",1061).attr("stroke","#e3e3e3").attr("stroke-width",1.3));
  iYTicks.slice(1,-1).forEach(t=>P.back.append("line").attr("y1",P.y(t)).attr("y2",P.y(t)).attr("x1",1208).attr("x2",1652).attr("stroke","#e3e3e3").attr("stroke-width",1.3));
  const col = d3.scaleLinear().domain([0,0.35]).range(["#ff0000","#ffd3da"]).clamp(true);
  const rS = d3.scaleLinear().domain([0.06,0.43]).range([2.6,7.4]);
  const order = d3.range(iPoints.length).sort((a,b)=>iPoints[b][0]-iPoints[a][0]);
  P.mid.selectAll(null).data(order).join("circle").attr("cx",i=>P.x(iPoints[i][0])).attr("cy",i=>P.y(iPoints[i][1]))
    .attr("r",i=>rS(iPoints[i][0])).attr("fill",i=>col(Math.pow(10,-iPoints[i][1]))).attr("stroke","#222").attr("stroke-width",1);
  iNames.forEach((n,i)=>{
    if(!n) return;
    const cx=P.x(iPoints[i][0]), cy=P.y(iPoints[i][1]), r=rS(iPoints[i][0]);
    const t = P.mid.append("text").attr("font-family",SANS).attr("font-size",10.8).attr("fill","#111").text(n);
    if(n==="Arginine biosynthesis") t.attr("x",cx).attr("y",cy-r-9).attr("text-anchor","middle");
    else t.attr("x",cx+r+1).attr("y",cy+1);
  });
  const gr = defs.append("linearGradient").attr("id","pgrad").attr("x1",0).attr("y1",1).attr("x2",0).attr("y2",0);
  gr.append("stop").attr("offset","0%").attr("stop-color",col(0));
  gr.append("stop").attr("offset","100%").attr("stop-color",col(0.35));
  const cb = d3.scaleLinear().domain([0,0.35]).range([879,799]);
  svg.append("rect").attr("x",1673).attr("y",799).attr("width",17).attr("height",80).attr("fill","url(#pgrad)");
  svg.append("text").attr("x",1669).attr("y",792).attr("font-family",SERIF).attr("font-size",14).attr("font-weight","bold").text("P_value");
  iPTicks.forEach(v=>{
    svg.append("line").attr("x1",1688).attr("x2",1690).attr("y1",cb(v)).attr("y2",cb(v)).attr("stroke","#fff");
    svg.append("text").attr("x",1694).attr("y",cb(v)+4.5).attr("font-family",SERIF).attr("font-size",13.5).text(String(v));
  });
  svg.append("text").attr("x",1674).attr("y",925).attr("font-family",SERIF).attr("font-size",14).attr("font-weight","bold").text("Impact");
  iImpactTicks.forEach((v,i)=>{
    svg.append("circle").attr("cx",1679).attr("cy",936+i*20).attr("r",rS(v)*0.95).attr("fill","#000");
    svg.append("text").attr("x",1694).attr("y",941+i*20).attr("font-family",SERIF).attr("font-size",14).text(v.toFixed(2));
  });
}

// ---------------- Panel J ----------------
letter("J",44,1173);
{
  const REG = {up:"#c1151d", down:"#1c74bd"};
  const ARC = "#1d5b82";
  const headerBoxes = [[295,1140,664,1185,"#12a5ea","#1a6fb5"],[1028,1133,1460,1183,"#c0521a","none"],[1495,1133,1818,1184,"#f6c8ad","none"],[246,1550,596,1603,"#92d050","none"],[1086,1547,1578,1598,"#7a1f6c","none"]];
  const dashBoxes = [[84,1188,960,1545,"#2d7fc1"],[969,1186,1512,1542,"#c0581e"],[1519,1189,1815,1545,"#f5c3a6"],[85,1600,768,1980,"#3f7f26"],[780,1599,1812,1983,"#7a1f6c"]];
  const nodePos = [[545,1248,"middle"],[860,1248,"middle"],[171,1370,"middle"],[358,1370,"middle"],[545,1370,"middle"],[822,1370,"middle"],[780,1433,"middle"],[477,1473,"middle"],[608,1473,"middle"],[358,1515,"middle"],
    [1103,1248,"middle"],[1102,1335,"middle"],[1377,1335,"middle"],[1378,1420,"middle"],[1378,1507,"middle"],[1671,1292,"middle"],[1673,1437,"middle"],
    [106,1723,"start"],[106,1815,"start"],[106,1905,"start"],[624,1853,"middle"],[772,1905,"middle"],[766,1698,"middle"],
    [935,1780,"start"],[1170,1780,"start"],[1655,1815,"middle"],[935,1905,"start"],[1348,1905,"start"]];
  const arrows = [[[762,1240],[726,1240]],[[262,1361],[300,1361]],[[418,1361],[495,1361]],[[597,1361],[683,1361]],[[597,1363],[691,1425]],[[545,1338],[545,1263]],[[478,1442],[544,1383]],[[617,1442],[548,1383]],[[359,1485],[359,1385]],[[138,1385],[138,1693]],
    [[1103,1262],[1103,1303]],[[1246,1327],[1286,1327]],[[1378,1348],[1378,1388]],[[1378,1433],[1378,1477]],[[1673,1305],[1673,1407]],
    [[143,1733],[143,1793]],[[143,1830],[143,1872]],[[389,1897],[550,1845]],[[389,1897],[701,1897]],
    [[844,1690],[1657,1690],[1657,1787]],[[856,1897],[917,1897]],[[889,1897],[889,1773],[919,1773]],[[1064,1773],[1158,1773]],[[1296,1897],[1336,1897]]];
  defs.append("marker").attr("id","ah").attr("viewBox","0 0 10 8").attr("refX",9).attr("refY",4).attr("markerWidth",10).attr("markerHeight",8).attr("markerUnits","userSpaceOnUse").attr("orient","auto")
    .append("path").attr("d","M0,0 L10,4 L0,8 Z").attr("fill",ARC);
  const g = svg.append("g");
  dashBoxes.forEach(b=>g.append("rect").attr("x",b[0]).attr("y",b[1]).attr("width",b[2]-b[0]).attr("height",b[3]-b[1]).attr("rx",50).attr("ry",50).attr("fill","none").attr("stroke",b[4]).attr("stroke-width",2.2).attr("stroke-dasharray","7,3"));
  headerBoxes.forEach((b,i)=>{
    g.append("rect").attr("x",b[0]).attr("y",b[1]).attr("width",b[2]-b[0]).attr("height",b[3]-b[1]).attr("rx",8).attr("fill",b[4]).attr("stroke",b[5]).attr("stroke-width",1.5);
    g.append("text").attr("x",(b[0]+b[2])/2).attr("y",(b[1]+b[3])/2+11).attr("text-anchor","middle").attr("font-family",SERIF).attr("font-size",32).attr("font-weight","bold").attr("fill","#000").text(jPathways[i]);
  });
  const line = d3.line();
  arrows.forEach(a=>g.append("path").attr("d",line(a)).attr("fill","none").attr("stroke",ARC).attr("stroke-width",2.6).attr("marker-end","url(#ah)"));
  const ec=[772,1797], erx=95, ery=85;
  g.append("ellipse").attr("cx",ec[0]).attr("cy",ec[1]).attr("rx",erx).attr("ry",ery).attr("fill","none").attr("stroke",ARC).attr("stroke-width",2.6);
  [140,252,60].forEach(deg=>{
    const t=deg*Math.PI/180, px=ec[0]+erx*Math.cos(t), py=ec[1]+ery*Math.sin(t);
    const ang=Math.atan2(ery*Math.cos(t),-erx*Math.sin(t))*180/Math.PI;
    g.append("path").attr("d","M-9,-4.5 L2,0 L-9,4.5 Z").attr("fill",ARC).attr("transform",`translate(${px},${py}) rotate(${ang})`);
  });
  jNodeNames.forEach((n,i)=>{
    const p=nodePos[i];
    g.append("text").attr("x",p[0]).attr("y",p[1]).attr("text-anchor",p[2]).attr("font-family",SERIF).attr("font-size",28.5).attr("fill",REG[jNodeReg[i]]).text(n);
  });
}
</script>
</body></html>
